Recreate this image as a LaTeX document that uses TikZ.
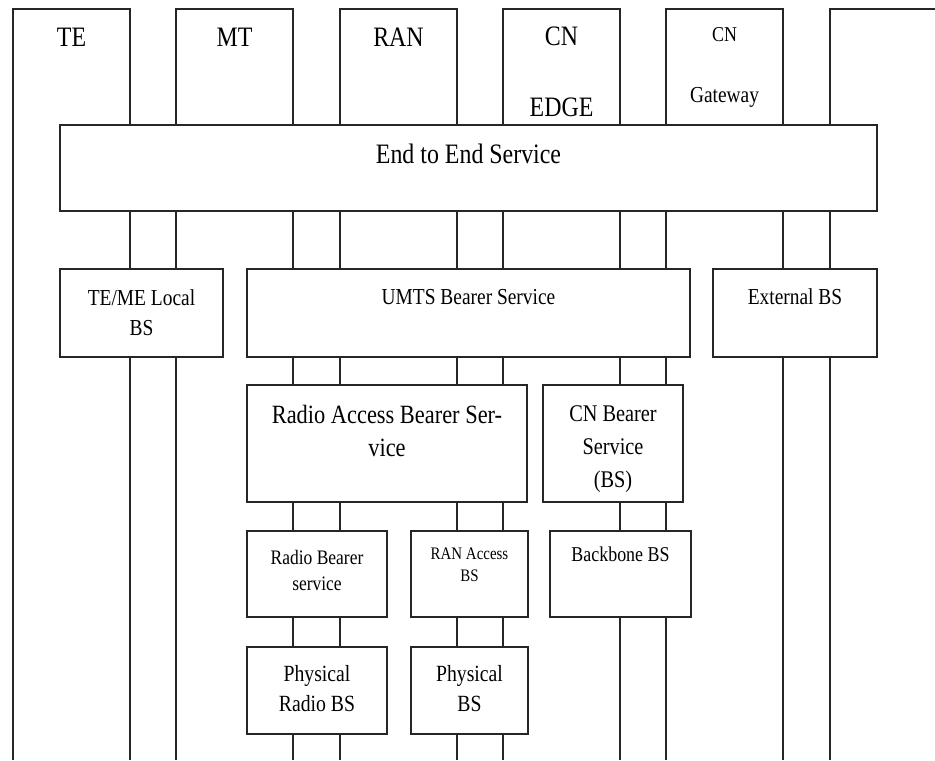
\documentclass[tikz,border=0pt]{standalone}
\usepackage{fontspec}
\setmainfont{Liberation Serif}[FakeStretch=0.85]
\usetikzlibrary{positioning}
\tikzset{
  wire/.style   = {line width=1.1pt, draw=black!85},
  colbox/.style = {inner sep=0pt, outer sep=0pt, anchor=north west,
                   minimum width=2.34cm, minimum height=15.02cm},
  box/.style    = {draw=black!85, line width=1.1pt, fill=white, inner sep=0pt,
                   outer sep=0pt, anchor=north west},
  lbl/.style    = {inner sep=0pt, align=center},
}

\begin{document}
\begin{tikzpicture}[x=0.2mm, y=-0.2mm]
  \useasboundingbox (0,0) rectangle (935,760);
  % entity columns
  \foreach \n/\x in {te/13, mt/176, ran/340, edge/503, gw/666} {
    \node[colbox] (\n) at (\x,9) {};
    \draw[wire] (\n.south west) -- (\n.north west) -- (\n.north east) -- (\n.south east);
  }
  \node[colbox, minimum width=2.1cm] (ext) at (830,9) {};
  \draw[wire] (ext.south west) -- (ext.north west) -- (ext.north east);

  \node[lbl, font=\fontsize{16}{20}\selectfont, below=0.38cm of te.north] (te-l) {TE};
  \node[lbl, font=\fontsize{16}{20}\selectfont, below=0.38cm of mt.north] (mt-l) {MT};
  \node[lbl, font=\fontsize{16}{20}\selectfont, below=0.38cm of ran.north] (ran-l) {RAN};
  \node[lbl, font=\fontsize{16}{20}\selectfont, below=0.36cm of edge.north] (edge-l) {CN\\[20pt]EDGE};
  \node[lbl, font=\fontsize{13}{16}\selectfont, below=0.36cm of gw.north] (gw-l)
    {{\fontsize{12}{14}\selectfont CN}\\[19pt]Gateway};

  % service layers
  \node[box, minimum width=16.34cm, minimum height=1.72cm] (e2e) at (60,125) {};
  \node[lbl, font=\fontsize{16}{20}\selectfont, below=0.38cm of e2e.north] (e2e-l) {End to End Service};

  \node[box, minimum width=3.26cm, minimum height=1.76cm] (local) at (60,269) {};
  \node[box, minimum width=8.86cm, minimum height=1.76cm] (umts) at (247,269) {};
  \node[box, minimum width=3.28cm, minimum height=1.76cm] (extbs) at (713,269) {};
  \node[lbl, font=\fontsize{13}{17}\selectfont, below=0.4cm of local.north] (local-l) {TE/ME Local\\BS};
  \node[lbl, font=\fontsize{13}{17}\selectfont, below=0.4cm of umts.north] (umts-l) {UMTS Bearer Service};
  \node[lbl, font=\fontsize{13}{17}\selectfont, below=0.38cm of extbs.north] (extbs-l) {External BS};

  \node[box, minimum width=5.6cm, minimum height=2.34cm] (rab) at (247,385) {};
  \node[box, minimum width=2.8cm, minimum height=2.34cm] (cnbs) at (543,385) {};
  \node[lbl, font=\fontsize{15}{18.7}\selectfont, below=0.4cm of rab.north] (rab-l) {Radio Access Bearer Ser-\\vice};
  \node[lbl, font=\fontsize{13.6}{19}\selectfont, below=0.4cm of cnbs.north] (cnbs-l) {CN Bearer\\Service\\(BS)};

  \node[box, minimum width=2.8cm, minimum height=1.72cm] (rbs) at (247,531) {};
  \node[box, minimum width=2.34cm, minimum height=1.72cm] (ranbs) at (411,531) {};
  \node[box, minimum width=2.82cm, minimum height=1.72cm] (bbs) at (550,531) {};
  \node[lbl, font=\fontsize{11.7}{14.7}\selectfont, below=0.38cm of rbs.north] (rbs-l) {Radio Bearer\\service};
  \node[lbl, font=\fontsize{10}{12.5}\selectfont, below=0.34cm of ranbs.north] (ranbs-l) {RAN Access\\BS};
  \node[lbl, font=\fontsize{12}{15}\selectfont, below=0.32cm of bbs.north] (bbs-l) {Backbone BS};

  \node[box, minimum width=2.8cm, minimum height=1.74cm] (physr) at (247,647) {};
  \node[box, minimum width=2.34cm, minimum height=1.74cm] (physb) at (411,647) {};
  \node[lbl, font=\fontsize{13.2}{17}\selectfont, below=0.36cm of physr.north] (physr-l) {Physical\\Radio BS};
  \node[lbl, font=\fontsize{13.2}{17}\selectfont, below=0.36cm of physb.north] (physb-l) {Physical\\BS};
\end{tikzpicture}
\end{document}
